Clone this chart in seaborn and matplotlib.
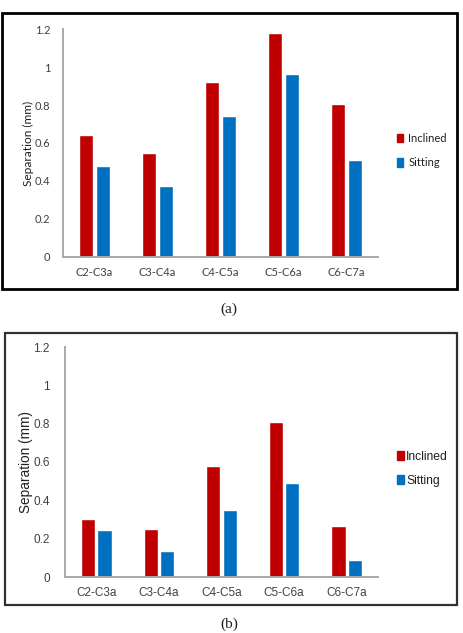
import matplotlib
matplotlib.use("Agg")
import matplotlib.pyplot as plt
import matplotlib.patches as mpatches
from matplotlib.ticker import FuncFormatter
import seaborn as sns
import pandas as pd

categories = ["C2-C3a", "C3-C4a", "C4-C5a", "C5-C6a", "C6-C7a"]
series_names = ["Inclined", "Sitting"]
inclined_a = [0.64, 0.546, 0.921, 1.18, 0.804]
sitting_a = [0.477, 0.372, 0.744, 0.961, 0.511]
inclined_b = [0.304, 0.249, 0.577, 0.81, 0.266]
sitting_b = [0.245, 0.137, 0.351, 0.489, 0.087]
yticks = [0, 0.2, 0.4, 0.6, 0.8, 1, 1.2]
colors = ["#C00000", "#0070C0"]

sns.set_style("white")

W, H = 463, 633
fig = plt.figure(figsize=(W / 100, H / 100), dpi=100)


def fx(x):
    return x / W


def fy(y):
    return 1 - y / H


def make_df(inc, sit):
    rows = []
    for c, v in zip(categories, inc):
        rows.append({"cat": c, "series": series_names[0], "val": v})
    for c, v in zip(categories, sit):
        rows.append({"cat": c, "series": series_names[1], "val": v})
    return pd.DataFrame(rows)


def panel(box, frame_col, frame_lw, axbox, inc, sit, font, fs_tick, fs_lab, fs_leg,
          leg_xy, leg_sp, hl, htp, ypad, lpad, cap, cap_y):
    x0, y0, x1, y1 = box
    fig.patches.append(mpatches.Rectangle((fx(x0), fy(y1)), fx(x1 - x0), (y1 - y0) / H,
                                          transform=fig.transFigure, fill=False,
                                          edgecolor=frame_col, linewidth=frame_lw))
    l, t, r, b = axbox
    ax = fig.add_axes([fx(l), fy(b), fx(r - l), (b - t) / H])
    df = make_df(inc, sit)
    sns.barplot(data=df, x="cat", y="val", hue="series", order=categories,
                hue_order=series_names, palette=colors, width=0.52, gap=0.13,
                saturation=1, ax=ax, legend=False)
    ax.set_ylim(0, 1.2)
    ax.set_xlim(-0.5, 4.5)
    ax.set_yticks(yticks)
    ax.yaxis.set_major_formatter(FuncFormatter(lambda v, p: f"{v:g}"))
    for s in ["top", "right"]:
        ax.spines[s].set_visible(False)
    for s in ["left", "bottom"]:
        ax.spines[s].set_color("#a8a8a8")
        ax.spines[s].set_linewidth(1.4)
    ax.tick_params(axis="x", length=0, pad=7, labelsize=fs_tick, colors="#404040")
    ax.tick_params(axis="y", length=0, pad=ypad, labelsize=fs_tick, colors="#404040")
    for lab in ax.get_xticklabels() + ax.get_yticklabels():
        lab.set_fontfamily(font)
    ax.set_xlabel("")
    ax.set_ylabel("Separation (mm)", fontsize=fs_lab, fontfamily=font, color="#202020",
                  labelpad=lpad)
    handles = [mpatches.Patch(color=c) for c in colors]
    fig.legend(handles, series_names, loc="upper left",
               bbox_to_anchor=(fx(leg_xy[0]), fy(leg_xy[1])), frameon=False,
               handlelength=hl, handleheight=0.75, handletextpad=htp,
               labelspacing=leg_sp, prop={"family": font, "size": fs_leg},
               borderaxespad=0, borderpad=0, labelcolor="#202020")
    fig.text(fx(229), fy(cap_y), cap, ha="center", va="center",
             fontfamily="Liberation Serif", fontsize=11, color="#202020")
    return ax


panel((2, 13, 457, 289), "black", 2.0, (63, 29, 378, 257), inclined_a, sitting_a, "Lato",
      8, 8.6, 8, (397, 133), 1.2, 0.5, 0.5, 9, 0.5, "(a)", 309)
panel((5, 333, 457, 605), "#303030", 1.6, (65, 347, 378, 577), inclined_b, sitting_b,
      "Liberation Sans", 8.5, 9.8, 8.7, (397, 451), 1.0, 0.55, 0.2, 11, 0.5, "(b)", 624)

fig.savefig("out.png", dpi=100)
